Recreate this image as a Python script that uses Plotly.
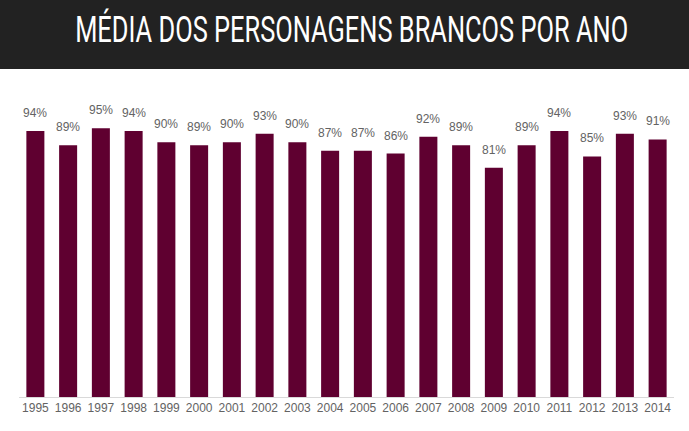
import plotly.graph_objects as go

years = [str(y) for y in range(1995, 2015)]
values = [94, 89, 95, 94, 90, 89, 90, 93, 90, 87, 87, 86, 92, 89, 81, 89, 94, 85, 93, 91]
labels = [f"{v}%" for v in values]
title_text = "MÉDIA DOS PERSONAGENS BRANCOS POR ANO"

W, H = 689, 431
T, B, L, R = 114, 34, 19, 15
PH = H - T - B

fig = go.Figure(go.Bar(
    x=years, y=values,
    marker=dict(color="#5f0030", line=dict(width=0)),
    hoverinfo="skip",
))

# category index positions for the value labels (numeric-looking strings would be read as indices)
annots = [dict(x=i, y=v, text=t, xref="x", yref="y", showarrow=False,
               yanchor="bottom", yshift=9,
               font=dict(family="Liberation Sans, Arial, sans-serif", size=12, color="#636363"))
          for i, (v, t) in enumerate(zip(values, labels))]
annots.append(dict(text=title_text, xref="paper", yref="paper",
                   x=(351.5 - L) / (W - L - R), y=1 + (T - 29.5) / PH,
                   xanchor="center", yanchor="middle", showarrow=False,
                   font=dict(family="Roboto, sans-serif", size=36, color="white", weight=400)))

fig.update_layout(
    width=W, height=H,
    margin=dict(l=L, r=R, t=T, b=B),
    paper_bgcolor="white", plot_bgcolor="white",
    bargap=0.45, showlegend=False,
    shapes=[dict(type="rect", xref="paper", yref="paper",
                 x0=-0.1, x1=1.1, y0=1 + (T - 69) / PH, y1=1 + T / PH + 0.1,
                 fillcolor="#222222", line=dict(width=0), layer="below")],
    annotations=annots,
)
fig.update_xaxes(type="category", range=[-0.5, len(years) - 0.5],
                 showline=True, linecolor="#d9d9d9", linewidth=1, ticks="",
                 tickfont=dict(family="Liberation Sans, Arial, sans-serif", size=12, color="#636363"),
                 showgrid=False, fixedrange=True)
fig.update_yaxes(range=[0, 100], visible=False, showgrid=False, fixedrange=True)

post = """
document.body.style.margin='0';
document.documentElement.style.overflow='hidden';
var ts = document.querySelectorAll('text.annotation-text');
ts.forEach(function(t){
  if (t.textContent.indexOf('MÉDIA') === 0) {
    t.setAttribute('textLength', '553');
    t.setAttribute('lengthAdjust', 'spacingAndGlyphs');
  }
});
"""
fig.write_html("out.html", post_script=post, config={"displayModeBar": False})
